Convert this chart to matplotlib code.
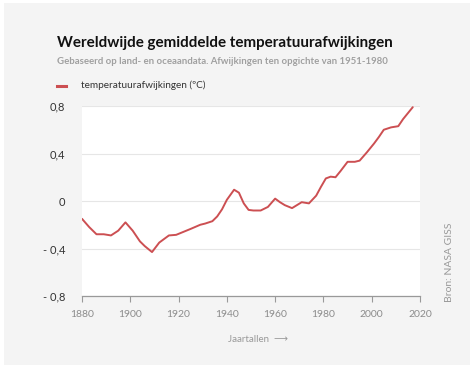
import matplotlib
matplotlib.use("Agg")
import matplotlib.pyplot as plt
from matplotlib.patches import Rectangle

plt.rcParams["font.family"] = ["Lato", "DejaVu Sans"]

# values (smoothed anomaly, degC vs 1951-1980)
years = [1880, 1883, 1886, 1889, 1892, 1895, 1898, 1901, 1904, 1906, 1909,
         1912, 1916, 1919, 1922, 1925, 1929, 1931, 1934, 1936, 1938, 1940,
         1943, 1945, 1947, 1949, 1951, 1954, 1957, 1960, 1962, 1964, 1967,
         1971, 1974, 1977, 1979, 1981, 1983, 1985, 1987, 1990, 1993, 1995,
         1998, 2001, 2003, 2005, 2008, 2011, 2013, 2015, 2017]
anomaly = [-0.15, -0.22, -0.28, -0.28, -0.29, -0.25, -0.18, -0.25, -0.34, -0.38, -0.43,
           -0.35, -0.29, -0.285, -0.26, -0.235, -0.20, -0.19, -0.17, -0.13, -0.07, 0.01,
           0.095, 0.07, -0.02, -0.075, -0.08, -0.08, -0.05, 0.02, -0.01, -0.035, -0.06,
           -0.01, -0.02, 0.045, 0.12, 0.19, 0.205, 0.20, 0.25, 0.33, 0.33, 0.34,
           0.41, 0.485, 0.54, 0.60, 0.62, 0.63, 0.69, 0.74, 0.79]

xticks = [1880, 1900, 1920, 1940, 1960, 1980, 2000, 2020]
yticks = [-0.8, -0.4, 0, 0.4, 0.8]
ylabels = ["- 0,8", "- 0,4", "0", "0,4", "0,8"]

fig = plt.figure(figsize=(4.74, 3.68), dpi=100, facecolor="white")
fig.patches.append(Rectangle((4 / 474, 3 / 368), 466 / 474, 362 / 368,
                             transform=fig.transFigure, facecolor="#f4f4f4",
                             edgecolor="none", zorder=-10))

ax = fig.add_axes([82 / 474, 1 - 296 / 368, 338 / 474, 190 / 368])
ax.set_facecolor("white")
ax.plot(years, anomaly, color="#cc4f52", lw=1.4, solid_capstyle="round")

ax.set_xlim(1880, 2020)
ax.set_ylim(-0.8, 0.8)
ax.set_xticks(xticks)
ax.set_yticks(yticks)
ax.set_yticklabels(ylabels)
ax.grid(axis="y", color="#e6e6e6", lw=0.8)
ax.set_axisbelow(True)
for s in ["top", "right", "left"]:
    ax.spines[s].set_visible(False)
ax.spines["bottom"].set_color("#999999")
ax.spines["bottom"].set_linewidth(0.9)
ax.tick_params(axis="x", colors="#999999", labelcolor="#8c8c8c", length=4,
               width=0.8, labelsize=7.5, pad=6)
ax.tick_params(axis="y", length=0, labelcolor="#333333", labelsize=8, pad=12)

fig.text(57 / 474, 1 - 43 / 368, "Wereldwijde gemiddelde temperatuurafwijkingen",
         fontsize=10.9, fontweight="bold", color="#111111", va="center")
fig.text(57 / 474, 1 - 61 / 368,
         "Gebaseerd op land- en oceaandata. Afwijkingen ten opgichte van 1951-1980",
         fontsize=6.9, fontweight="bold", color="#a0a0a0", va="center")
fig.lines.append(plt.Line2D([57 / 474, 66 / 474], [1 - 86 / 368, 1 - 86 / 368],
                            transform=fig.transFigure, color="#cc4f52", lw=2.2))
fig.text(81 / 474, 1 - 85 / 368, "temperatuurafwijkingen (ºC)",
         fontsize=7.2, color="#333333", va="center")
fig.text(258 / 474, 1 - 339 / 368, "Jaartallen  ⟶", fontsize=7, color="#999999",
         ha="center", va="center")
fig.text(449 / 474, 1 - 262 / 368, "Bron: NASA GISS", fontsize=7.5, color="#999999",
         rotation=90, ha="center", va="center")

fig.savefig("out.png", dpi=100, facecolor=fig.get_facecolor())
